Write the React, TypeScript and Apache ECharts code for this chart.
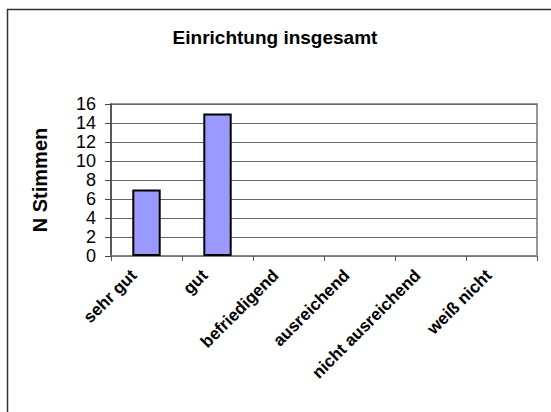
import React, { useEffect, useRef } from "react";
import * as echarts from "echarts";

const categories = ["sehr gut", "gut", "befriedigend", "ausreichend", "nicht ausreichend", "weiß nicht"];
const votes = [7, 15, 0, 0, 0, 0];
const titleText = "Einrichtung insgesamt";
const yName = "N Stimmen";
const yMin = 0;
const yMax = 16;
const yStep = 2;

const FONT = "'Liberation Sans', Arial, sans-serif";

export default function App() {
  const ref = useRef<HTMLDivElement>(null);
  useEffect(() => {
    if (!ref.current) return;
    const chart = echarts.init(ref.current, null, { renderer: "svg" });
    chart.setOption({
      animation: false,
      backgroundColor: "#ffffff",
      textStyle: { fontFamily: FONT },
      title: {
        text: titleText,
        left: 270,
        textAlign: "center",
        top: 23,
        textStyle: { fontFamily: FONT, fontSize: 19, fontWeight: "bold", color: "#000" },
      },
      graphic: [
        {
          type: "rect",
          shape: { x: 7.5, y: 9.5, width: 700, height: 600 },
          style: { fill: "none", stroke: "#333", lineWidth: 1.5 },
          silent: true,
        },
      ],
      grid: {
        left: 111,
        top: 104,
        right: 14,
        bottom: 156,
        show: true,
        borderColor: "#999",
        borderWidth: 2,
        backgroundColor: "transparent",
      },
      xAxis: {
        type: "category",
        data: categories,
        axisLine: { show: true, lineStyle: { color: "#808080", width: 1.5 } },
        axisTick: { show: true, length: 5, lineStyle: { color: "#555" } },
        axisLabel: {
          interval: 0,
          rotate: 45,
          margin: 4,
          padding: [0, 18, 0, 0],
          fontFamily: FONT,
          fontSize: 17,
          fontWeight: "bold",
          color: "#000",
        },
      },
      yAxis: {
        type: "value",
        min: yMin,
        max: yMax,
        interval: yStep,
        name: yName,
        nameLocation: "middle",
        nameGap: 61,
        nameTextStyle: { fontFamily: FONT, fontSize: 20, fontWeight: "bold", color: "#000" },
        axisLine: { show: true, lineStyle: { color: "#444", width: 1.5 } },
        axisTick: { show: true, inside: false, length: 6, lineStyle: { color: "#444" } },
        axisLabel: {
          fontFamily: FONT,
          fontSize: 18,
          lineHeight: 18,
          color: "#000",
          margin: 15,
          showMinLabel: true,
          showMaxLabel: true,
          hideOverlap: false,
        },
        splitLine: { show: true, lineStyle: { color: "#666", width: 1 } },
      },
      series: [
        {
          type: "bar",
          data: votes.map((v) => ({
            value: v,
            itemStyle: { borderWidth: v === 0 ? 0 : 2 },
          })),
          barWidth: "40%",
          itemStyle: { color: "#9999FF", borderColor: "#000", borderWidth: 2 },
        },
      ],
    });
    return () => chart.dispose();
  }, []);
  return (
    <div
      ref={ref}
      style={{ position: "fixed", left: 0, top: 0, width: 551, height: 412 }}
    />
  );
}
